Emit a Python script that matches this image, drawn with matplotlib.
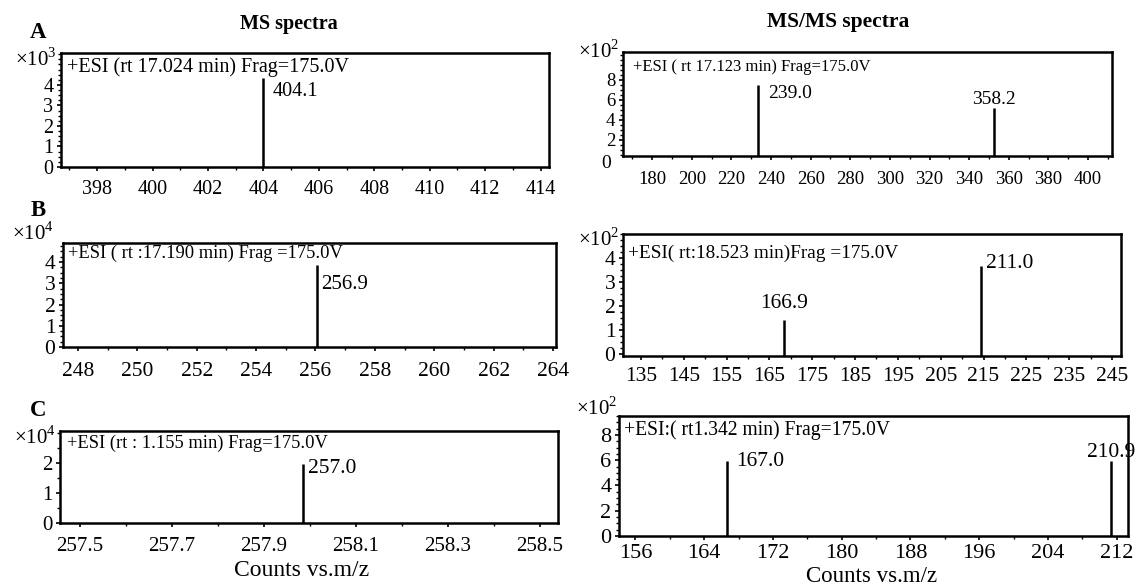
import matplotlib
matplotlib.use("Agg")
import matplotlib.pyplot as plt
from matplotlib.ticker import MultipleLocator

plt.rcParams['font.family'] = ['Liberation Serif', 'DejaVu Serif']
plt.rcParams['mathtext.fontset'] = 'custom'
plt.rcParams['mathtext.rm'] = 'Liberation Serif'

# ---------------- data ----------------
a_ms_mz = [404.0]
a_ms_int = [4.34]
a_ms_lab = ["404.1"]
a_ms_ticks = [398, 400, 402, 404, 406, 408, 410, 412, 414]

a_msms_mz = [233.6, 352.5]
a_msms_int = [7.5, 5.2]
a_msms_lab = ["239.0", "358.2"]
a_msms_ticks = [180, 200, 220, 240, 260, 280, 300, 320, 340, 360, 380, 400]

b_ms_mz = [256.04]
b_ms_int = [3.86]
b_ms_lab = ["256.9"]
b_ms_ticks = [248, 250, 252, 254, 256, 258, 260, 262, 264]

b_msms_mz = [168.4, 214.3]
b_msms_int = [1.42, 3.67]
b_msms_lab = ["166.9", "211.0"]
b_msms_ticks = [135, 145, 155, 165, 175, 185, 195, 205, 215, 225, 235, 245]

c_ms_mz = [257.985]
c_ms_int = [1.97]
c_ms_lab = ["257.0"]
c_ms_ticks = [257.5, 257.7, 257.9, 258.1, 258.3, 258.5]

c_msms_mz = [166.7, 211.3]
c_msms_int = [5.9, 5.9]
c_msms_lab = ["167.0", "210.9"]
c_msms_ticks = [156, 164, 172, 180, 188, 196, 204, 212]

esi_texts = ["+ESI (rt 17.024 min) Frag=175.0V",
             "+ESI ( rt 17.123 min) Frag=175.0V",
             "+ESI ( rt :17.190 min) Frag =175.0V",
             "+ESI( rt:18.523 min)Frag =175.0V",
             "+ESI (rt : 1.155 min) Frag=175.0V",
             "+ESI:( rt1.342 min) Frag=175.0V"]
exponents = ["3", "2", "4", "2", "4", "2"]

W, H = 1138, 586
fig = plt.figure(figsize=(W / 100, H / 100), dpi=100)


def fx(x):
    return x / W


def fy(y):
    return 1 - y / H


def panel(rect, mz, inten, labs, xticks, xlim, ylim, yticks, yminor,
          xminor, lab_offsets, lab_size, tsize, xpad,
          esi, esi_pos, esi_size, expo, expo_pos):
    l, t, r, b = rect
    ax = fig.add_axes([fx(l), fy(b), (r - l) / W, (b - t) / H])
    ax.vlines(mz, ylim[0], inten, color="black", lw=1.8)
    for x, y, s, (dx, dy, ha) in zip(mz, inten, labs, lab_offsets):
        ax.annotate(s, (x, y), xytext=(dx, dy), textcoords="offset points",
                    ha=ha, va="center", fontsize=lab_size)
    ax.set_xlim(*xlim)
    ax.set_ylim(*ylim)
    ax.set_xticks(xticks)
    ax.set_xticklabels(["{:g}".format(v) for v in xticks])
    ax.xaxis.set_minor_locator(MultipleLocator(xminor))
    ax.set_yticks(yticks)
    ax.yaxis.set_minor_locator(MultipleLocator(yminor))
    for s in ax.spines.values():
        s.set_linewidth(1.8)
    ax.tick_params(which="major", direction="out", length=3, width=1.2,
                   labelsize=tsize)
    ax.tick_params(which="minor", direction="out", length=2, width=1.0)
    ax.tick_params(axis="x", which="major", pad=xpad)
    ax.tick_params(axis="y", which="major", pad=2.5)
    fig.text(fx(esi_pos[0]), fy(esi_pos[1]), esi, ha="left", va="center",
             fontsize=esi_size)
    fig.text(fx(expo_pos[0]), fy(expo_pos[1]), r"$\times$10$^{%s}$" % expo,
             ha="right", va="center", fontsize=15)
    return ax


axA1 = panel((61, 53, 549, 167), a_ms_mz, a_ms_int, a_ms_lab, a_ms_ticks,
             (396.7, 414.3), (0, 5.56), [0, 1, 2, 3, 4], 0.25, 1,
             [(6.5, -10, "left")], 14.5, 14.5, 6,
             esi_texts[0], (67, 67), 14.5, exponents[0], (57, 60))
axA2 = panel((623, 52, 1112, 156), a_msms_mz, a_msms_int, a_msms_lab,
             a_msms_ticks, (165.3, 412.1), (0.4, 10.8), [2, 4, 6, 8], 0.5, 10,
             [(7, -6, "left"), (0, 6, "center")], 14, 13.5, 8,
             esi_texts[1], (633, 67), 12, exponents[1], (619, 52))
fig.text(fx(606), fy(164), "0", ha="center", va="center", fontsize=14)
axB1 = panel((63, 243, 556, 347), b_ms_mz, b_ms_int, b_ms_lab, b_ms_ticks,
             (247.5, 264.1), (0, 4.9), [0, 1, 2, 3, 4], 0.25, 1,
             [(3, -14, "left")], 15, 15.5, 7.5,
             esi_texts[2], (68, 253), 13.3, exponents[2], (54, 233))
axB2 = panel((623, 234, 1121, 356), b_msms_mz, b_msms_int, b_msms_lab,
             b_msms_ticks, (130.8, 247.1), (-0.08, 5.0), [0, 1, 2, 3, 4],
             0.25, 5,
             [(0, 12, "center"), (3.6, 2, "left")], 15.5, 15.5, 5,
             esi_texts[3], (628, 253), 13.9, exponents[3], (619, 240))
axC1 = panel((60, 431, 558, 523), c_ms_mz, c_ms_int, c_ms_lab, c_ms_ticks,
             (257.457, 258.54), (0, 3.07), [0, 1, 2], 0.5, 0.1,
             [(3.6, -3, "left")], 15.5, 15, 7,
             esi_texts[4], (67, 443), 13.3, exponents[4], (56, 437))
axC2 = panel((619, 416, 1128, 536), c_msms_mz, c_msms_int, c_msms_lab,
             c_msms_ticks, (154.1, 213.3), (0, 9.5), [0, 2, 4, 6, 8], 0.5, 4,
             [(6.5, 0, "left"), (0, 6.5, "center")], 15.5, 16, 3,
             esi_texts[5], (624, 430), 14.1, exponents[5], (617, 409))

fig.text(fx(302), fy(571), "Counts vs.m/z", ha="center", va="center",
         fontsize=17)
fig.text(fx(872), fy(577), "Counts vs.m/z", ha="center", va="center",
         fontsize=16.5)

fig.text(fx(289), fy(24), "MS spectra", ha="center", va="center",
         fontsize=14.5, fontweight="bold")
fig.text(fx(838), fy(22), "MS/MS spectra", ha="center", va="center",
         fontsize=15.5, fontweight="bold")
for lbl, y in zip(["A", "B", "C"], [33, 211, 410]):
    fig.text(fx(38), fy(y), lbl, ha="center", va="center", fontsize=16.5,
             fontweight="bold")

fig.savefig("out.png", dpi=100, facecolor="white")
